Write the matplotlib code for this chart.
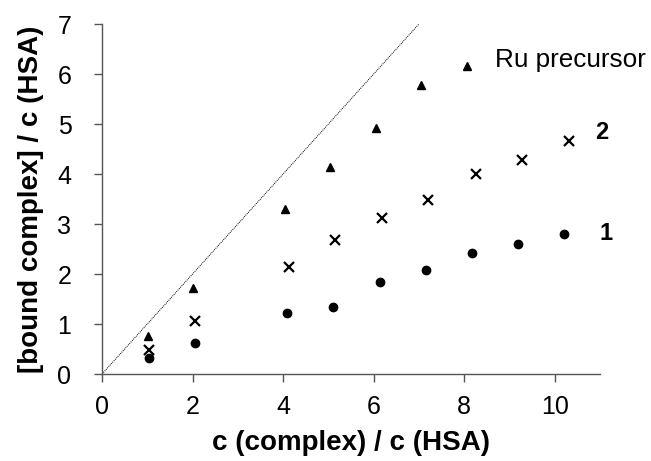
import matplotlib
matplotlib.use("Agg")
import matplotlib.pyplot as plt

plt.rcParams["font.family"] = ["Liberation Sans", "DejaVu Sans"]

# Ru precursor (triangles)
ru_x = [1.01, 2.02, 4.04, 5.04, 6.05, 7.05, 8.07]
ru_y = [0.77, 1.73, 3.30, 4.14, 4.93, 5.78, 6.16]

# complex 2 (crosses)
c2_x = [1.03, 2.06, 4.12, 5.15, 6.19, 7.21, 8.26, 9.28, 10.32]
c2_y = [0.48, 1.07, 2.14, 2.68, 3.13, 3.49, 4.01, 4.28, 4.67]

# complex 1 (circles)
c1_x = [1.03, 2.05, 4.09, 5.11, 6.13, 7.16, 8.17, 9.19, 10.21]
c1_y = [0.33, 0.62, 1.22, 1.35, 1.85, 2.08, 2.43, 2.61, 2.80]

diag = [0, 7]
xticks = [0, 2, 4, 6, 8, 10]
yticks = [0, 1, 2, 3, 4, 5, 6, 7]

fig = plt.figure(figsize=(6.51, 4.61), dpi=100)
ax = fig.add_axes([0.1567, 0.1887, 0.765, 0.7592])

ax.plot(diag, diag, color="black", linestyle=(0, (1, 1)), linewidth=0.7)
ax.plot(ru_x, ru_y, linestyle="none", marker="^", markersize=5.5, color="black")
ax.plot(c2_x, c2_y, linestyle="none", marker="x", markersize=6.5,
        markeredgewidth=1.6, color="black")
ax.plot(c1_x, c1_y, linestyle="none", marker="o", markersize=6, color="black")

ax.text(8.67, 6.28, "Ru precursor", fontsize=18.8, va="center", ha="left",
        clip_on=False)
ax.text(10.89, 4.84, "2", fontsize=17, fontweight="bold", va="center",
        ha="left", clip_on=False)
ax.text(10.98, 2.82, "1", fontsize=17, fontweight="bold", va="center",
        ha="left", clip_on=False)

ax.set_xlim(0, 11)
ax.set_ylim(0, 7)
ax.set_xticks(xticks)
ax.set_yticks(yticks)
ax.tick_params(direction="out", length=6, width=1, color="#555555",
               labelsize=18)
ax.tick_params(axis="x", pad=9)
ax.tick_params(axis="y", pad=16)
for side in ["top", "right"]:
    ax.spines[side].set_visible(False)
for side in ["left", "bottom"]:
    ax.spines[side].set_color("#555555")
    ax.spines[side].set_linewidth(1)

ax.set_xlabel("c (complex) / c (HSA)", fontsize=20, fontweight="bold",
              labelpad=8)
ax.set_ylabel("[bound complex] / c (HSA)", fontsize=20, fontweight="bold",
              labelpad=10)

fig.savefig("out.png", dpi=100)
